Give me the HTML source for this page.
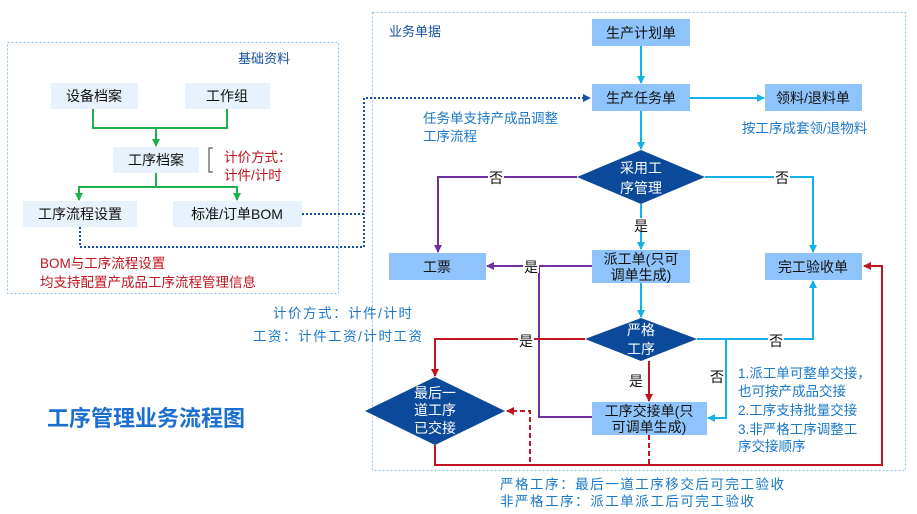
<!DOCTYPE html>
<html><head><meta charset="utf-8"><style>
html,body{margin:0;padding:0;background:#fff;}
svg{display:block;font-family:"Liberation Sans","Noto Sans CJK SC",sans-serif;}
</style></head><body>
<svg width="917" height="514" viewBox="0 0 917 514" xmlns="http://www.w3.org/2000/svg">
<defs>
<marker id="ag" markerWidth="8" markerHeight="8" refX="7" refY="4" orient="auto" markerUnits="userSpaceOnUse"><path d="M0,0 L8,4 L0,8 z" fill="#1fb04b"/></marker>
<marker id="ac" markerWidth="8" markerHeight="8" refX="7" refY="4" orient="auto" markerUnits="userSpaceOnUse"><path d="M0,0 L8,4 L0,8 z" fill="#14b0ea"/></marker>
<marker id="ap" markerWidth="8" markerHeight="8" refX="7" refY="4" orient="auto" markerUnits="userSpaceOnUse"><path d="M0,0 L8,4 L0,8 z" fill="#7030a0"/></marker>
<marker id="ar" markerWidth="8" markerHeight="8" refX="7" refY="4" orient="auto" markerUnits="userSpaceOnUse"><path d="M0,0 L8,4 L0,8 z" fill="#c0141e"/></marker>
<marker id="ab" markerWidth="8" markerHeight="8" refX="7" refY="4" orient="auto" markerUnits="userSpaceOnUse"><path d="M0,0 L8,4 L0,8 z" fill="#1650a0"/></marker>
</defs>
<rect x="7.5" y="42.5" width="331" height="251" fill="none" stroke="#8ec1f0" stroke-dasharray="2,2"/>
<rect x="372.5" y="12.5" width="533" height="458" fill="none" stroke="#8ec1f0" stroke-dasharray="2,2"/>
<g font-size="13" fill="#1650a0"><text x="238" y="63">基础资料</text><text x="389" y="36">业务单据</text></g>

<g fill="#e8f2fc">
<rect x="51" y="83" width="87" height="26"/><rect x="185" y="83" width="85" height="26"/>
<rect x="113" y="147" width="86" height="26"/>
<rect x="23" y="201" width="114" height="26"/><rect x="173" y="201" width="129" height="26"/>
</g>
<g font-size="14" fill="#111" text-anchor="middle">
<text x="94" y="101">设备档案</text><text x="227" y="101">工作组</text>
<text x="156" y="165">工序档案</text>
<text x="80" y="219">工序流程设置</text><text x="237" y="219">标准/订单BOM</text>
</g>
<g stroke="#1fb04b" stroke-width="2" fill="none">
<polyline points="93,109 93,128 227,128 227,109"/>
<line x1="156" y1="128" x2="156" y2="146" marker-end="url(#ag)"/>
<line x1="156" y1="173" x2="156" y2="187"/>
<polyline points="79,200 79,187 237,187 237,200"/>
<line x1="79" y1="190" x2="79" y2="200" marker-end="url(#ag)"/>
<line x1="237" y1="190" x2="237" y2="200" marker-end="url(#ag)"/>
</g>
<path d="M213,148 L209,148 L209,172 L213,172" fill="none" stroke="#333" stroke-width="1"/>
<g font-size="13.5" fill="#c0141e"><text x="224" y="162">计价方式：</text><text x="224" y="180">计件/计时</text>
<text x="40" y="268">BOM与工序流程设置</text><text x="40" y="287">均支持配置产成品工序流程管理信息</text></g>
<g stroke="#1650a0" stroke-width="2" fill="none" stroke-dasharray="2,2">
<polyline points="302,214 364,214 364,98 590,98" marker-end="url(#ab)"/>
<polyline points="80,227 80,247 364,247 364,214"/>
</g>

<g fill="#8ec4fb">
<rect x="592" y="19" width="98" height="27"/><rect x="592" y="84" width="98" height="27"/>
<rect x="765" y="84" width="97" height="27"/>
<rect x="389" y="253" width="97" height="27"/><rect x="592" y="250" width="98" height="33"/>
<rect x="765" y="253" width="97" height="27"/>
<rect x="592" y="402" width="115" height="33"/>
</g>
<g fill="#0b4a9a">
<polygon points="577,177 641,150 705,177 641,204"/>
<polygon points="585,339 641,318 697,339 641,361"/>
<polygon points="365,411 435,377 505,411 435,445"/>
</g>
<g font-size="14" fill="#111" text-anchor="middle">
<text x="641" y="38">生产计划单</text><text x="641" y="103">生产任务单</text><text x="813" y="103">领料/退料单</text>
<text x="437" y="272">工票</text><text x="641" y="264">派工单(只可</text><text x="641" y="280">调单生成)</text>
<text x="813" y="272">完工验收单</text>
<text x="649" y="416">工序交接单(只</text><text x="649" y="432">可调单生成)</text>
</g>
<g font-size="14" fill="#fff" text-anchor="middle">
<text x="641" y="173">采用工</text><text x="641" y="193">序管理</text>
<text x="641" y="335">严格</text><text x="641" y="354">工序</text>
<text x="435" y="398">最后一</text><text x="435" y="415">道工序</text><text x="435" y="433">已交接</text>
</g>

<g stroke="#14b0ea" stroke-width="2" fill="none">
<line x1="641" y1="46" x2="641" y2="83" marker-end="url(#ac)"/>
<line x1="690" y1="98" x2="764" y2="98" marker-end="url(#ac)"/>
<line x1="641" y1="111" x2="641" y2="149" marker-end="url(#ac)"/>
<line x1="641" y1="204" x2="641" y2="249" marker-end="url(#ac)"/>
<polyline points="705,177 813,177 813,252" marker-end="url(#ac)"/>
<line x1="641" y1="283" x2="641" y2="317" marker-end="url(#ac)"/>
<polyline points="697,339 813,339 813,281" marker-end="url(#ac)"/>
<polyline points="726,339 726,418 708,418" marker-end="url(#ac)"/>
</g>
<g stroke="#7030a0" stroke-width="2" fill="none">
<polyline points="577,177 438,177 438,252" marker-end="url(#ap)"/>
<polyline points="592,266 487,266" marker-end="url(#ap)"/>
<polyline points="539,266 539,417 592,417"/>
</g>
<g stroke="#c0141e" stroke-width="2" fill="none">
<polyline points="585,339 435,339 435,376" marker-end="url(#ar)"/>
<polyline points="649,361 649,401" marker-end="url(#ar)"/>
<polyline points="435,445 435,465 882,465 882,266 864,266" marker-end="url(#ar)"/>
<polyline points="649,435 649,465 530,465 530,411 507,411" stroke-dasharray="5,3" marker-end="url(#ar)"/>
</g>
<g font-size="14" fill="#111" text-anchor="middle">
<rect x="488" y="170" width="16" height="14" fill="#fff"/><text x="496" y="183">否</text>
<rect x="774" y="170" width="16" height="14" fill="#fff"/><text x="782" y="183">否</text>
<rect x="633" y="218" width="16" height="14" fill="#fff"/><text x="641" y="231">是</text>
<rect x="523" y="259" width="16" height="14" fill="#fff"/><text x="531" y="272">是</text>
<rect x="518" y="332" width="16" height="14" fill="#fff"/><text x="526" y="346">是</text>
<rect x="628" y="373" width="16" height="14" fill="#fff"/><text x="636" y="386">是</text>
<rect x="768" y="333" width="16" height="14" fill="#fff"/><text x="776" y="346">否</text>
<rect x="709" y="369" width="16" height="14" fill="#fff"/><text x="717" y="382">否</text>
</g>
<g font-size="13.5" fill="#1a78c8">
<text x="423" y="123">任务单支持产成品调整</text><text x="423" y="141">工序流程</text>
<text x="742" y="133">按工序成套领/退物料</text>
<text x="273" y="318" textLength="139" lengthAdjust="spacing">计价方式：计件/计时</text>
<text x="253" y="341" textLength="169" lengthAdjust="spacing">工资：计件工资/计时工资</text>
<text x="738" y="378">1.派工单可整单交接，</text>
<text x="738" y="396">也可按产成品交接</text>
<text x="738" y="415">2.工序支持批量交接</text>
<text x="738" y="434">3.非严格工序调整工</text>
<text x="738" y="451">序交接顺序</text>
<text x="500" y="489" textLength="284" lengthAdjust="spacing">严格工序：最后一道工序移交后可完工验收</text>
<text x="500" y="506" textLength="254" lengthAdjust="spacing">非严格工序：派工单派工后可完工验收</text>
</g>
<text x="47" y="426" font-size="22" font-weight="bold" fill="#1a6fd0">工序管理业务流程图</text>
</svg>
</body></html>
